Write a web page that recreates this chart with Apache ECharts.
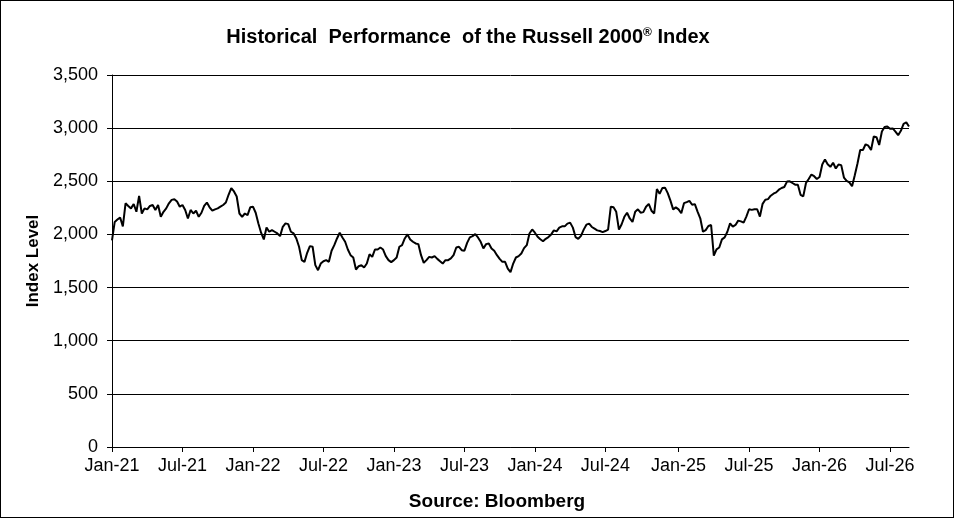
<!DOCTYPE html>
<html>
<head>
<meta charset="utf-8">
<script src="https://cdn.jsdelivr.net/npm/echarts@6.0.0/dist/echarts.min.js"></script>
<style>
  html, body { margin: 0; padding: 0; background: #fff; }
  #chart { width: 954px; height: 518px; box-sizing: border-box; border: 1px solid #000; }
</style>
</head>
<body>
<div id="chart"></div>
<script>
// weekly closes, first week starts 2021-01-01
const values = [
  1945, 2118, 2140, 2160, 2076, 2293, 2268, 2245, 2286, 2213,
  2363, 2197, 2245, 2236, 2268, 2277, 2230, 2277, 2166, 2213,
  2245, 2293, 2325, 2331, 2309, 2261, 2277, 2230, 2150, 2230,
  2197, 2223, 2166, 2204, 2268, 2300, 2255, 2223, 2236, 2245,
  2261, 2277, 2300, 2373, 2436, 2404, 2357, 2197, 2166, 2197,
  2181, 2255, 2261, 2204, 2102, 2016, 1953, 2066, 2025, 2041,
  2025, 2009, 1984, 2072, 2104, 2097, 2025, 2009, 1962, 1884,
  1758, 1742, 1827, 1890, 1884, 1711, 1663, 1726, 1748, 1758,
  1742, 1846, 1899, 1962, 2016, 1972, 1931, 1858, 1805, 1783,
  1670, 1701, 1711, 1689, 1726, 1814, 1789, 1858, 1858, 1877,
  1858, 1796, 1758, 1739, 1758, 1783, 1884, 1899, 1962, 2000,
  1953, 1931, 1915, 1909, 1805, 1733, 1758, 1789, 1783, 1796,
  1770, 1748, 1726, 1758, 1758, 1774, 1805, 1877, 1884, 1852,
  1846, 1921, 1972, 1984, 2003, 1972, 1931, 1868, 1909, 1915,
  1868, 1846, 1805, 1770, 1742, 1742, 1679, 1645, 1726, 1783,
  1796, 1821, 1871, 1899, 2009, 2047, 2016, 1978, 1955, 1936,
  1959, 1975, 2000, 2038, 2029, 2064, 2076, 2076, 2102, 2111,
  2064, 1975, 1959, 1987, 2045, 2092, 2102, 2070, 2054, 2038,
  2032, 2022, 2032, 2045, 2261, 2255, 2213, 2045, 2096, 2166,
  2204, 2150, 2118, 2213, 2236, 2204, 2210, 2261, 2287, 2223,
  2197, 2427, 2382, 2436, 2440, 2389, 2318, 2236, 2255, 2236,
  2199, 2294, 2304, 2316, 2279, 2285, 2215, 2152, 2025, 2041,
  2079, 2089, 1800, 1860, 1877, 1953, 1972, 2025, 2104, 2073,
  2089, 2130, 2123, 2111, 2168, 2237, 2231, 2237, 2237, 2168,
  2288, 2326, 2332, 2364, 2383, 2396, 2421, 2437, 2446, 2497,
  2500, 2484, 2468, 2468, 2373, 2358, 2484, 2522, 2563, 2548,
  2522, 2541, 2658, 2706, 2661, 2636, 2674, 2620, 2658, 2652,
  2535, 2503, 2490, 2453, 2557, 2668, 2794, 2794, 2848, 2835,
  2794, 2921, 2915, 2842, 2968, 3010, 3016, 2994, 2997, 2968,
  2934, 2975, 3041, 3054, 3016
]

const xTickLabels = [
  'Jan-21', 'Jul-21', 'Jan-22', 'Jul-22', 'Jan-23', 'Jul-23',
  'Jan-24', 'Jul-24', 'Jan-25', 'Jul-25', 'Jan-26', 'Jul-26',
]

const DAY = 86400000
const START = Date.UTC(2021, 0, 1)
const weeks = values.map((v, i) => new Date(START + i * 7 * DAY).toISOString().slice(0, 10))

// the week nearest to 1 Jan / 1 Jul carries the tick
function isHalfYear(i) {
  const s = new Date(START + i * 7 * DAY + 3.5 * DAY)
  const m = s.getUTCMonth()
  return (m === 0 || m === 6) && s.getUTCDate() <= 7
}
const tickIdx = weeks.map((w, i) => i).filter(isHalfYear)

const FONT = '"Liberation Sans", Arial, sans-serif'

const chart = echarts.init(document.getElementById('chart'), null, { renderer: 'canvas' })

chart.setOption({
  backgroundColor: '#ffffff',
  animation: false,
  grid: { left: 111, right: 44, top: 74, bottom: 70 },
  xAxis: {
    type: 'category',
    data: weeks,
    boundaryGap: false,
    axisLine: { lineStyle: { color: '#000', width: 1 } },
    axisTick: { interval: (i) => isHalfYear(i), length: 5, lineStyle: { color: '#000' } },
    axisLabel: {
      interval: (i) => isHalfYear(i),
      formatter: (v, i) => xTickLabels[tickIdx.indexOf(i)] || '',
      fontSize: 18,
      fontFamily: FONT,
      color: '#000',
      margin: 10,
    },
    splitLine: { show: false },
  },
  yAxis: {
    type: 'value',
    min: 0,
    max: 3500,
    interval: 500,
    name: 'Index Level',
    nameLocation: 'middle',
    nameGap: 66,
    nameTextStyle: { fontSize: 17, fontWeight: 'bold', fontFamily: FONT, color: '#000' },
    axisLine: { show: true, lineStyle: { color: '#000', width: 1 } },
    axisTick: { show: true, length: 5, lineStyle: { color: '#000' } },
    axisLabel: {
      fontSize: 18,
      fontFamily: FONT,
      color: '#000',
      margin: 14,
      formatter: (v) => v.toLocaleString('en-US'),
    },
    splitLine: { lineStyle: { color: '#000', width: 1 } },
  },
  graphic: [
    {
      type: 'text',
      style: {
        text: '{t|Historical  Performance  of the Russell 2000}{s|®}{t| Index}',
        x: 467,
        y: 36,
        align: 'center',
        verticalAlign: 'middle',
        rich: {
          t: { fontSize: 20, fontWeight: 'bold', fontFamily: FONT, fill: '#000', color: '#000' },
          s: { fontSize: 12, fontWeight: 'bold', fontFamily: FONT, fill: '#000', color: '#000', verticalAlign: 'top' },
        },
      },
    },
    {
      type: 'text',
      style: {
        text: 'Source: Bloomberg',
        x: 496,
        y: 501,
        align: 'center',
        verticalAlign: 'middle',
        font: 'bold 19px ' + FONT,
        fill: '#000',
      },
    },
  ],
  series: [{
    type: 'line',
    data: values,
    showSymbol: false,
    lineStyle: { color: '#000', width: 2 },
  }],
})
</script>
</body>
</html>
